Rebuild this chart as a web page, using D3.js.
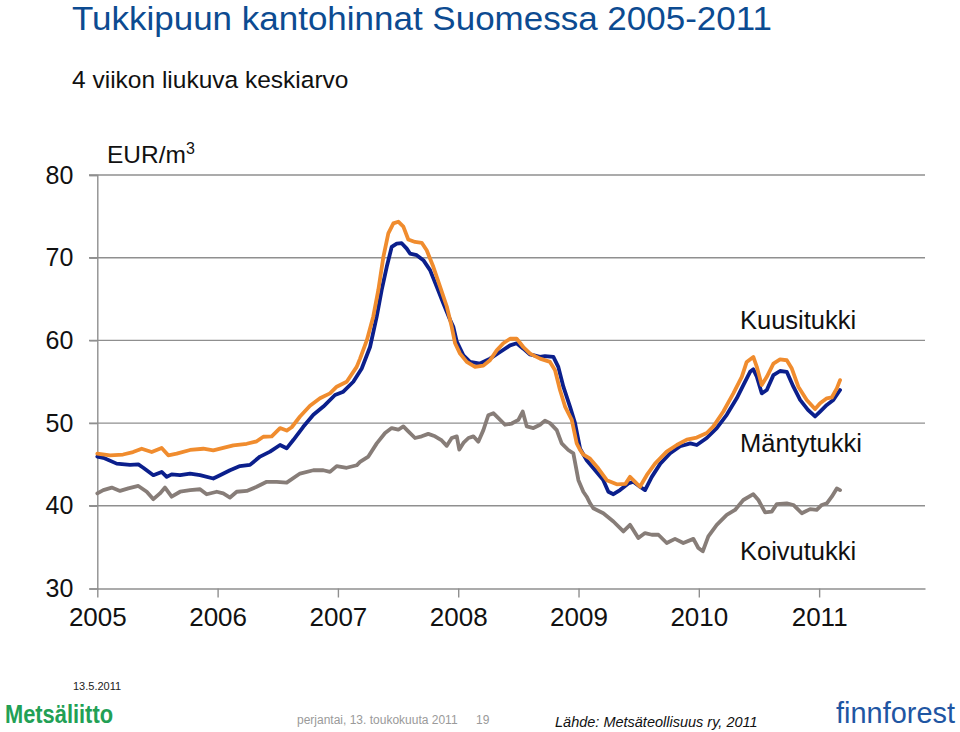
<!DOCTYPE html>
<html>
<head>
<meta charset="utf-8">
<script src="https://cdn.jsdelivr.net/npm/d3@7"></script>
<style>
  html, body { margin: 0; padding: 0; background: #fff; }
  svg { display: block; font-family: "Liberation Sans", Arial, sans-serif; }
</style>
</head>
<body>
<svg id="chart" width="960" height="732"></svg>
<script>
// ---- Data (decimal year, EUR/m3) ----
const yearTicks = [2005, 2006, 2007, 2008, 2009, 2010, 2011];
const valueTicks = [30, 40, 50, 60, 70, 80];

const kuusitukki = [
  [2005.000,46.3],[2005.106,46.1],[2005.214,46.2],[2005.297,46.5],[2005.369,46.9],[2005.452,46.5],
  [2005.535,47.0],[2005.590,46.1],[2005.660,46.3],[2005.771,46.75],[2005.881,46.9],[2005.964,46.7],
  [2006.047,47.0],[2006.131,47.3],[2006.242,47.5],[2006.325,47.8],[2006.380,48.35],[2006.450,48.4],
  [2006.519,49.4],[2006.574,49.1],[2006.616,49.5],[2006.685,50.8],[2006.768,52.1],[2006.851,53.0],
  [2006.934,53.6],[2006.990,54.4],[2007.073,55.0],[2007.156,56.8],[2007.184,57.8],[2007.240,60.0],
  [2007.294,62.9],[2007.336,66.1],[2007.378,70.1],[2007.419,72.95],[2007.461,74.15],[2007.502,74.35],
  [2007.544,73.75],[2007.585,72.2],[2007.641,71.9],[2007.697,71.8],[2007.738,70.9],[2007.793,68.9],
  [2007.849,66.5],[2007.905,64.1],[2007.946,61.65],[2007.974,59.65],[2008.015,58.4],[2008.071,57.4],
  [2008.140,56.8],[2008.209,56.95],[2008.264,57.6],[2008.320,58.8],[2008.375,59.65],[2008.431,60.2],
  [2008.486,60.2],[2008.541,59.2],[2008.597,58.4],[2008.680,57.8],[2008.763,57.4],[2008.805,56.4],
  [2008.846,54.0],[2008.888,52.0],[2008.944,50.4],[2008.985,47.55],[2009.013,46.75],[2009.040,46.2],
  [2009.096,45.7],[2009.165,44.5],[2009.235,43.1],[2009.318,42.6],[2009.390,42.65],[2009.428,43.5],
  [2009.470,42.9],[2009.511,42.3],[2009.567,43.7],[2009.636,45.1],[2009.733,46.55],[2009.817,47.35],
  [2009.900,48.0],[2009.983,48.25],[2010.066,48.8],[2010.121,49.6],[2010.204,51.4],[2010.287,53.6],
  [2010.357,55.6],[2010.398,57.4],[2010.453,58.0],[2010.482,56.8],[2010.523,54.6],[2010.565,55.6],
  [2010.620,57.2],[2010.675,57.7],[2010.731,57.6],[2010.773,56.6],[2010.827,54.4],[2010.897,52.8],
  [2010.966,51.7],[2011.008,52.4],[2011.064,53.0],[2011.105,53.1],[2011.147,54.2],[2011.174,55.2]
];

const mantytukki = [
  [2005.000,45.95],[2005.050,45.8],[2005.161,45.1],[2005.272,44.95],[2005.341,45.0],[2005.382,44.6],
  [2005.466,43.7],[2005.535,44.1],[2005.577,43.5],[2005.618,43.8],[2005.688,43.7],[2005.771,43.9],
  [2005.854,43.7],[2005.964,43.3],[2006.020,43.7],[2006.103,44.3],[2006.186,44.8],[2006.269,44.95],
  [2006.353,45.95],[2006.436,46.55],[2006.519,47.35],[2006.574,46.95],[2006.629,47.95],[2006.712,49.55],
  [2006.796,51.0],[2006.879,52.0],[2006.976,53.4],[2007.045,53.8],[2007.128,55.0],[2007.198,56.6],
  [2007.267,59.2],[2007.323,62.9],[2007.364,66.1],[2007.406,68.9],[2007.447,71.3],[2007.489,71.7],
  [2007.530,71.75],[2007.572,71.1],[2007.599,70.5],[2007.655,70.3],[2007.710,69.7],[2007.766,68.5],
  [2007.821,66.5],[2007.876,64.5],[2007.932,62.5],[2007.959,61.65],[2007.988,59.85],[2008.043,58.2],
  [2008.098,57.4],[2008.182,57.2],[2008.264,57.8],[2008.348,58.6],[2008.431,59.4],[2008.486,59.65],
  [2008.541,59.0],[2008.597,58.3],[2008.680,58.0],[2008.721,58.1],[2008.791,58.0],[2008.832,56.8],
  [2008.874,54.4],[2008.929,52.0],[2008.971,50.0],[2009.013,46.9],[2009.068,45.5],[2009.138,44.3],
  [2009.206,43.1],[2009.248,41.7],[2009.290,41.4],[2009.345,41.9],[2009.414,42.7],[2009.455,42.9],
  [2009.511,42.3],[2009.553,41.9],[2009.609,43.5],[2009.680,45.1],[2009.762,46.35],[2009.845,47.2],
  [2009.929,47.55],[2009.983,47.35],[2010.066,48.2],[2010.149,49.4],[2010.232,51.0],[2010.315,53.0],
  [2010.370,54.6],[2010.426,56.2],[2010.453,56.5],[2010.482,55.6],[2010.523,53.6],[2010.565,54.0],
  [2010.620,55.8],[2010.675,56.3],[2010.731,56.2],[2010.786,54.4],[2010.842,52.8],[2010.907,51.6],
  [2010.966,50.8],[2011.008,51.4],[2011.064,52.2],[2011.118,52.8],[2011.174,54.0]
];

const koivutukki = [
  [2005.000,41.5],[2005.050,41.9],[2005.120,42.2],[2005.189,41.8],[2005.258,42.1],[2005.341,42.4],
  [2005.411,41.7],[2005.466,40.8],[2005.521,41.5],[2005.563,42.2],[2005.618,41.1],[2005.688,41.7],
  [2005.771,41.9],[2005.854,42.0],[2005.909,41.4],[2005.993,41.7],[2006.047,41.5],[2006.103,41.0],
  [2006.159,41.7],[2006.242,41.8],[2006.325,42.3],[2006.408,42.9],[2006.491,42.9],[2006.574,42.8],
  [2006.685,43.9],[2006.796,44.3],[2006.879,44.3],[2006.934,44.1],[2006.990,44.8],[2007.073,44.6],
  [2007.156,44.9],[2007.184,45.3],[2007.253,45.95],[2007.323,47.55],[2007.392,48.8],[2007.447,49.4],
  [2007.502,49.2],[2007.544,49.6],[2007.585,49.0],[2007.641,48.2],[2007.697,48.4],[2007.751,48.7],
  [2007.807,48.4],[2007.863,47.9],[2007.905,47.25],[2007.946,48.2],[2007.988,48.4],[2008.009,46.8],
  [2008.043,47.6],[2008.085,48.2],[2008.126,48.4],[2008.167,47.75],[2008.209,49.15],[2008.250,50.95],
  [2008.292,51.2],[2008.334,50.6],[2008.389,49.8],[2008.445,49.95],[2008.500,50.4],[2008.536,51.4],
  [2008.570,49.6],[2008.625,49.4],[2008.680,49.8],[2008.721,50.3],[2008.763,50.0],[2008.819,49.15],
  [2008.860,47.55],[2008.915,46.75],[2008.957,46.35],[2008.999,43.1],[2009.040,41.7],[2009.068,41.1],
  [2009.096,40.3],[2009.123,39.7],[2009.206,39.1],[2009.290,38.1],[2009.373,36.9],[2009.428,37.7],
  [2009.497,36.1],[2009.553,36.7],[2009.609,36.5],[2009.664,36.5],[2009.733,35.5],[2009.802,36.0],
  [2009.871,35.5],[2009.955,36.0],[2009.996,34.9],[2010.033,34.5],[2010.079,36.3],[2010.149,37.7],
  [2010.232,38.9],[2010.301,39.5],[2010.370,40.7],[2010.453,41.4],[2010.495,40.7],[2010.551,39.2],
  [2010.606,39.3],[2010.648,40.2],[2010.731,40.3],[2010.786,40.1],[2010.856,39.1],[2010.925,39.6],
  [2010.980,39.5],[2011.022,40.1],[2011.064,40.3],[2011.105,41.1],[2011.147,42.1],[2011.174,41.9]
];

const seriesNames = ["Koivutukki", "Mäntytukki", "Kuusitukki"];
const seriesColors = ["#877d78", "#0b1f8c", "#f08c2e"];
const seriesData = [koivutukki, mantytukki, kuusitukki];

// ---- Layout ----
const svg = d3.select("#chart");
const x = d3.scaleLinear().domain([2005, 2011.88]).range([97.3, 925]);
const y = d3.scaleLinear().domain([30, 80]).range([588.5, 175]);
const gridColor = "#8f8f8f";

// Title & subtitle
svg.append("text").attr("x", 72).attr("y", 30).attr("font-size", 33)
  .attr("textLength", 700).attr("lengthAdjust", "spacingAndGlyphs")
  .attr("fill", "#0c4b91").text("Tukkipuun kantohinnat Suomessa 2005-2011");
svg.append("text").attr("x", 72).attr("y", 88).attr("font-size", 24.5)
  .attr("fill", "#111").text("4 viikon liukuva keskiarvo");

// Gridlines (40..80)
svg.append("g").selectAll("line").data(valueTicks.filter(v => v > 30)).join("line")
  .attr("x1", 89).attr("x2", 925)
  .attr("y1", d => y(d)).attr("y2", d => y(d))
  .attr("stroke", gridColor).attr("stroke-width", 1.4);

// Y axis
const yAxis = svg.append("g").attr("transform", "translate(97.3,0)")
  .call(d3.axisLeft(y).tickValues(valueTicks).tickSize(8).tickPadding(16).tickFormat(d3.format("d")));
yAxis.select(".domain").attr("stroke", gridColor).attr("stroke-width", 1.4);
yAxis.selectAll(".tick line").attr("stroke", gridColor).attr("stroke-width", 1.4);
yAxis.selectAll(".tick text").attr("font-size", 25).attr("fill", "#111")
  .attr("font-family", "Liberation Sans, Arial, sans-serif");

// X axis
const xAxis = svg.append("g").attr("transform", "translate(0,588.5)")
  .call(d3.axisBottom(x).tickValues(yearTicks).tickSize(9).tickPadding(10).tickFormat(d3.format("d")).tickSizeOuter(0));
xAxis.select(".domain").attr("stroke", gridColor).attr("stroke-width", 1.4);
xAxis.selectAll(".tick line").attr("stroke", gridColor).attr("stroke-width", 1.4);
xAxis.selectAll(".tick text").attr("font-size", 26).attr("fill", "#111")
  .attr("font-family", "Liberation Sans, Arial, sans-serif");

// Unit label
const unit = svg.append("text").attr("x", 107).attr("y", 163).attr("font-size", 24.5).attr("fill", "#111");
unit.append("tspan").text("EUR/m");
unit.append("tspan").attr("font-size", 16).attr("dy", -9).text("3");

// Lines
const line = d3.line().x(d => x(d[0])).y(d => y(d[1])).curve(d3.curveLinear);
svg.append("g").selectAll("path").data(seriesData).join("path")
  .attr("d", line)
  .attr("fill", "none")
  .attr("stroke", (d, i) => seriesColors[i])
  .attr("stroke-width", 3.8)
  .attr("stroke-linejoin", "round")
  .attr("stroke-linecap", "round");

// Series labels
const labelPos = [[740, 560], [740, 452], [740, 329]];
svg.append("g").selectAll("text").data(seriesNames).join("text")
  .attr("x", (d, i) => labelPos[i][0]).attr("y", (d, i) => labelPos[i][1])
  .attr("font-size", 25.5).attr("fill", "#111").text(d => d);

// Footer
svg.append("text").attr("x", 73).attr("y", 690).attr("font-size", 11).attr("fill", "#222").text("13.5.2011");
svg.append("text").attr("x", 5).attr("y", 723).attr("font-size", 26).attr("font-weight", "bold")
  .attr("fill", "#22a055").attr("textLength", 108).attr("lengthAdjust", "spacingAndGlyphs").text("Metsäliitto");
svg.append("text").attr("x", 297).attr("y", 724).attr("font-size", 12).attr("fill", "#9a9a9a")
  .text("perjantai, 13. toukokuuta 2011");
svg.append("text").attr("x", 476).attr("y", 724).attr("font-size", 12).attr("fill", "#9a9a9a").text("19");
svg.append("text").attr("x", 555).attr("y", 727).attr("font-size", 14.5).attr("font-style", "italic")
  .attr("fill", "#111").text("Lähde: Metsäteollisuus ry, 2011");
svg.append("text").attr("x", 836).attr("y", 723).attr("font-size", 29)
  .attr("fill", "#1f56a3").attr("textLength", 119).attr("lengthAdjust", "spacingAndGlyphs").text("finnforest");
</script>
</body>
</html>
